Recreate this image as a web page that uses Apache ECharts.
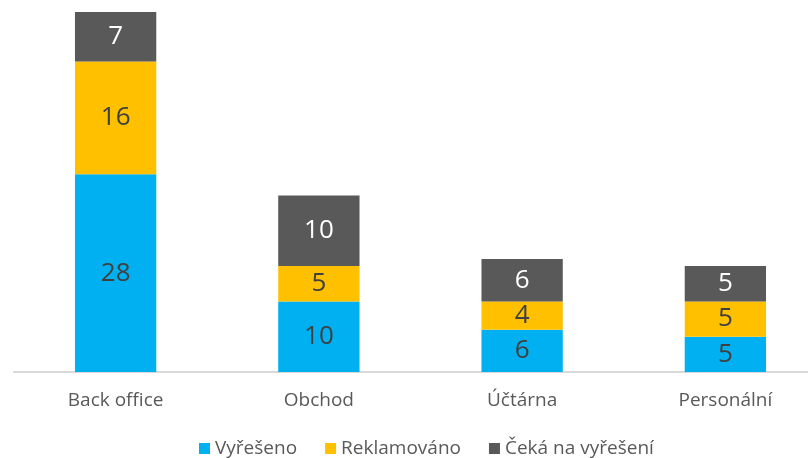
<!DOCTYPE html>
<html>
<head>
<meta charset="utf-8">
<script src="https://cdn.jsdelivr.net/npm/echarts@6/dist/echarts.min.js"></script>
<style>
  html, body { margin: 0; padding: 0; background: #fff; }
  #chart { width: 808px; height: 458px; }
</style>
</head>
<body>
<div id="chart"></div>
<script>
// kategorie a hodnoty
const categories = ['Back office', 'Obchod', 'Účtárna', 'Personální'];
const seriesNames = ['Vyřešeno', 'Reklamováno', 'Čeká na vyřešení'];
const vyreseno = [28, 10, 6, 5];
const reklamovano = [16, 5, 4, 5];
const ceka = [7, 10, 6, 5];

const colors = ['#00B0F0', '#FFC000', '#595959'];
const labelColors = ['#404040', '#404040', '#ffffff'];
const font = '"Open Sans", "Noto Sans", sans-serif';

const chart = echarts.init(document.getElementById('chart'));

const makeSeries = (name, data, i) => ({
  name: name,
  type: 'bar',
  stack: 'total',
  data: data,
  barWidth: '40%',
  itemStyle: { color: colors[i] },
  label: {
    show: true,
    position: 'inside',
    color: labelColors[i],
    fontFamily: font,
    fontSize: 26
  },
  emphasis: { disabled: true }
});

const option = {
  animation: false,
  grid: {
    left: 14,
    right: -19,
    top: 12,
    bottom: 86,
    containLabel: false,
    outerBoundsMode: 'none'
  },
  legend: {
    data: seriesNames,
    left: 194,
    top: 434,
    icon: 'rect',
    itemWidth: 11,
    itemHeight: 11,
    itemGap: 28,
    textStyle: { color: '#595959', fontSize: 19, fontFamily: font }
  },
  xAxis: {
    type: 'category',
    data: categories,
    axisTick: { show: false },
    axisLine: { lineStyle: { color: '#d9d9d9', width: 2 } },
    axisLabel: {
      color: '#595959',
      fontSize: 19,
      fontFamily: font,
      margin: 19
    }
  },
  yAxis: {
    type: 'value',
    min: 0,
    max: 51,
    show: false,
    splitLine: { show: false }
  },
  series: [
    makeSeries(seriesNames[0], vyreseno, 0),
    makeSeries(seriesNames[1], reklamovano, 1),
    makeSeries(seriesNames[2], ceka, 2)
  ]
};

chart.setOption(option);
</script>
</body>
</html>
